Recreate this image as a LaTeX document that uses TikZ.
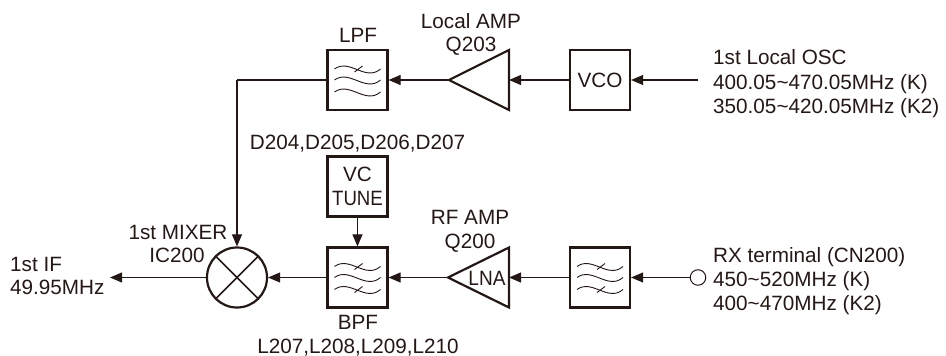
\documentclass[tikz,border=0pt]{standalone}
\usepackage{fontspec}
\setmainfont{Liberation Sans}
\usetikzlibrary{arrows.meta}
\definecolor{ink}{HTML}{231815}
\tikzset{
  x=1pt,y=-1pt,
  every node/.style={text=ink,font=\fontsize{20.7}{24}\selectfont,inner sep=0pt},
  blockbox/.style={draw=ink,line width=2.2pt,minimum size=60pt,inner sep=0pt},
  ampshape/.style={draw=ink,line width=2.2pt,line join=miter},
  mixshape/.style={draw=ink,line width=2.2pt,circle,minimum size=60pt},
  portshape/.style={draw=ink,line width=1pt,circle,minimum size=15.5pt},
  sig/.style={draw=ink,line width=1.1pt,-{Triangle[length=12pt,width=10pt,fill=ink]}},
  plainline/.style={draw=ink,line width=1.1pt},
  wave/.style={draw=ink,line width=0.9pt},
  lbl/.style={anchor=base},
  lbll/.style={anchor=base west},
}
\newcommand{\waveset}[2]{%
  \draw[wave] ([shift={(-23,-11)}]#1.center) .. controls ([shift={(-8,-22)}]#1.center) and ([shift={(8,2)}]#1.center) .. ([shift={(23,-11)}]#1.center);
  \draw[wave] ([shift={(-23,0)}]#1.center) .. controls ([shift={(-8,-11)}]#1.center) and ([shift={(8,13)}]#1.center) .. ([shift={(23,0)}]#1.center);
  \draw[wave] ([shift={(-23,12)}]#1.center) .. controls ([shift={(-8,1)}]#1.center) and ([shift={(8,25)}]#1.center) .. ([shift={(23,12)}]#1.center);
  \draw[wave] ([shift={(-3,-8)}]#1.center) -- ([shift={(5,-14)}]#1.center);
  \ifnum#2=1
  \draw[wave] ([shift={(-3,15)}]#1.center) -- ([shift={(5,9)}]#1.center);
  \fi}
\begin{document}
\begin{tikzpicture}
\useasboundingbox (0,0) rectangle (946,356);
% blocks
\node[blockbox] (lpf) at (357.5,80) {};
\node[blockbox] (vco) at (600,80) {};
\node[blockbox] (vctune) at (357.5,186.5) {};
\node[blockbox] (bpf) at (357.5,277.5) {};
\node[blockbox] (rxf) at (600,277.5) {};
\node[mixshape] (mix) at (237,277.5) {};
\node[portshape] (port) at (698,277.5) {};
\coordinate (lamptip) at (449,80);
\coordinate (lampbase) at (509,80);
\coordinate (rftip) at (448,277.5);
\coordinate (rfbase) at (509,277.5);
\coordinate (oscin) at (698,80);
\coordinate (lpfcorner) at (237,80);
\coordinate (ifout) at (110,277.5);
\draw[ampshape] (lamptip) -- ([yshift=-30]lampbase) -- ([yshift=30]lampbase) -- cycle;
\draw[ampshape] (rftip) -- ([yshift=-30]rfbase) -- ([yshift=30]rfbase) -- cycle;
% mixer cross
\draw[draw=ink,line width=1.6pt] (mix.north west) -- (mix.south east);
\draw[draw=ink,line width=1.6pt] (mix.north east) -- (mix.south west);
% filter symbols
\waveset{lpf}{0}
\waveset{bpf}{1}
\waveset{rxf}{1}
% connectors
\draw[sig] (oscin) -- (vco.east);
\draw[sig] (vco.west) -- (lampbase);
\draw[sig] (lamptip) -- (lpf.east);
\draw[plainline] (lpf.west) -- (lpfcorner);
\draw[sig] (lpfcorner) -- (mix.north);
\draw[sig] (vctune.south) -- (bpf.north);
\draw[sig] (bpf.west) -- (mix.east);
\draw[sig] (mix.west) -- (ifout);
\draw[sig] (rftip) -- (bpf.east);
\draw[sig] (rxf.west) -- (rfbase);
\draw[sig] (port.west) -- (rxf.east);
% labels
\node[lbl] (tvco) at (600,87) {VCO};
\node[lbl] (tlpf) at (358,42) {LPF};
\node[lbl] (tlamp) at (471,28) {Local AMP};
\node[lbl] (tq203) at (471,51) {Q203};
\node[lbll] (tosc1) at (713,64) {1st Local OSC};
\node[lbll] (tosc2) at (713,89) {400.05\textasciitilde470.05MHz (K)};
\node[lbll] (tosc3) at (713,113) {350.05\textasciitilde420.05MHz (K2)};
\node[lbl] (td) at (357.5,149) {D204,D205,D206,D207};
\node[lbl] (tvc) at (357.5,181) {VC};
\node[lbl] (ttune) at (357.5,205) {\scalebox{0.9}[1]{TUNE}};
\node[lbl] (tmix1) at (178,239) {1st MIXER};
\node[lbl] (tmix2) at (177,262) {IC200};
\node[lbll] (tif1) at (10,271) {1st IF};
\node[lbll] (tif2) at (10,294) {49.95MHz};
\node[lbl] (trf) at (470,224) {RF AMP};
\node[lbl] (tq200) at (470,248) {Q200};
\node[lbl] (tlna) at (487,285) {\scalebox{0.92}[1]{LNA}};
\node[lbl] (tbpf) at (358,329) {BPF};
\node[lbl] (tl) at (358,353) {L207,L208,L209,L210};
\node[lbll] (trx1) at (713,262) {RX terminal (CN200)};
\node[lbll] (trx2) at (713,286) {450\textasciitilde520MHz (K)};
\node[lbll] (trx3) at (713,310) {400\textasciitilde470MHz (K2)};
\end{tikzpicture}
\end{document}
